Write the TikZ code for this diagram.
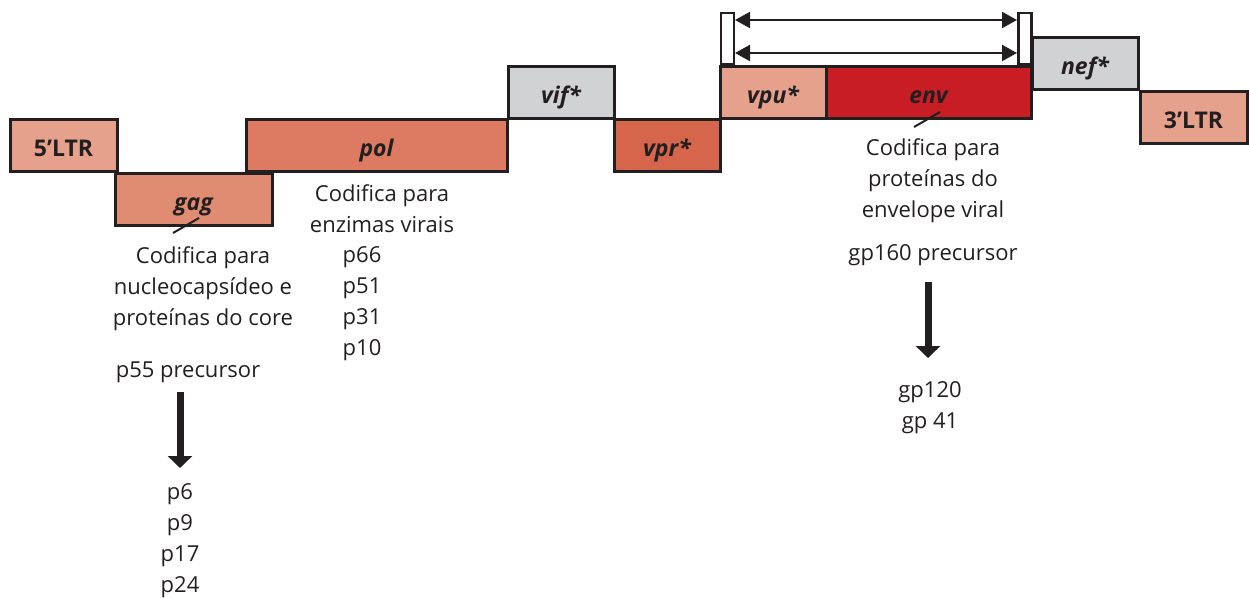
\documentclass[tikz,border=0pt]{standalone}
\usepackage{fontspec}
\setmainfont{Open Sans}
\usetikzlibrary{arrows.meta}
\definecolor{edge}{HTML}{231F20}
\definecolor{cLight}{HTML}{E5A18B}
\definecolor{cGag}{HTML}{E08C73}
\definecolor{cPol}{HTML}{DD7B62}
\definecolor{cVpr}{HTML}{D5664B}
\definecolor{cEnv}{HTML}{C81D24}
\definecolor{cGrey}{HTML}{D1D2D4}
\tikzset{
  gene/.style={draw=edge, line width=3pt, minimum height=52pt, inner sep=0pt,
    text height=23pt, text depth=0pt, text=edge,
    font=\fontsize{23}{27}\selectfont\bfseries\itshape},
  ltr/.style={gene, font=\fontsize{23}{27}\selectfont\bfseries},
  txt/.style={anchor=base, inner sep=0pt, text=edge, align=center,
    font=\fontsize{22}{31}\selectfont},
  leader/.style={draw=edge, line width=2pt},
  bigarrow/.style={draw=edge, line width=7pt, -{Triangle[width=24pt,length=12pt]}},
  rangearrow/.style={draw=edge, line width=2pt,
    {Triangle[width=16pt,length=15pt]}-{Triangle[width=16pt,length=15pt]}},
  post/.style={draw=edge, fill=white, line width=2.5pt, minimum width=13pt,
    minimum height=51pt, inner sep=0pt},
}
\begin{document}
\begin{tikzpicture}[x=1pt,y=-1pt]
\useasboundingbox (0,0) rectangle (1249,597);
% gene boxes
\node[ltr, fill=cLight, minimum width=107pt] (ltr5) at (63.5,145) {5’LTR};
\node[gene, fill=cGag, minimum width=157pt] (gag) at (193.5,199) {gag};
\node[gene, fill=cPol, minimum width=261pt] (pol) at (376.5,145) {pol};
\node[gene, fill=cGrey, minimum width=106pt] (vif) at (561,92) {vif*};
\node[gene, fill=cVpr, minimum width=106pt] (vpr) at (667,145) {vpr*};
\node[gene, fill=cLight, minimum width=106pt] (vpu) at (773,92) {vpu*};
\node[gene, fill=cEnv, minimum width=205pt] (env) at (928.5,92) {env};
\node[gene, fill=cGrey, minimum width=106pt] (nef) at (1085,63) {nef*};
\node[ltr, fill=cLight, minimum width=107pt] (ltr3) at (1193.5,117) {3’LTR};
% range markers above vpu/env
\node[post] (postL) at (727.5,38.5) {};
\node[post] (postR) at (1025,38.5) {};
\coordinate (r1a) at (735,20);
\coordinate (r1b) at (1017,20);
\coordinate (r2a) at (735,53);
\coordinate (r2b) at (1017,53);
\draw[rangearrow] (r1a) -- (r1b);
\draw[rangearrow] (r2a) -- (r2b);
% gag annotations
\coordinate (gagL1) at (199,218);
\coordinate (gagL2) at (173,233);
\draw[leader] (gagL1) -- (gagL2);
\node[txt] (gagtxt) at (203,325) {Codifica para\\nucleocapsídeo e\\proteínas do core};
\node[txt] (p55) at (188,377) {p55 precursor};
\coordinate (gagA1) at (180,392);
\coordinate (gagA2) at (180,468);
\draw[bigarrow] (gagA1) -- (gagA2);
\node[txt] (gagprod) at (180,592) {p6\\p9\\p17\\p24};
% pol annotations
\node[txt] (poltxt) at (382,232) {Codifica para\\enzimas virais};
\node[txt] (polprod) at (362,355) {p66\\p51\\p31\\p10};
% env annotations
\coordinate (envL1) at (940,112);
\coordinate (envL2) at (914,127);
\draw[leader] (envL1) -- (envL2);
\node[txt] (envtxt) at (933,217) {Codifica para\\proteínas do\\envelope viral};
\node[txt] (gp160) at (933,260) {gp160 precursor};
\coordinate (envA1) at (928,282);
\coordinate (envA2) at (928,358);
\draw[bigarrow] (envA1) -- (envA2);
\node[txt] (envprod) at (930,428) {gp120\\gp 41};
\end{tikzpicture}
\end{document}
